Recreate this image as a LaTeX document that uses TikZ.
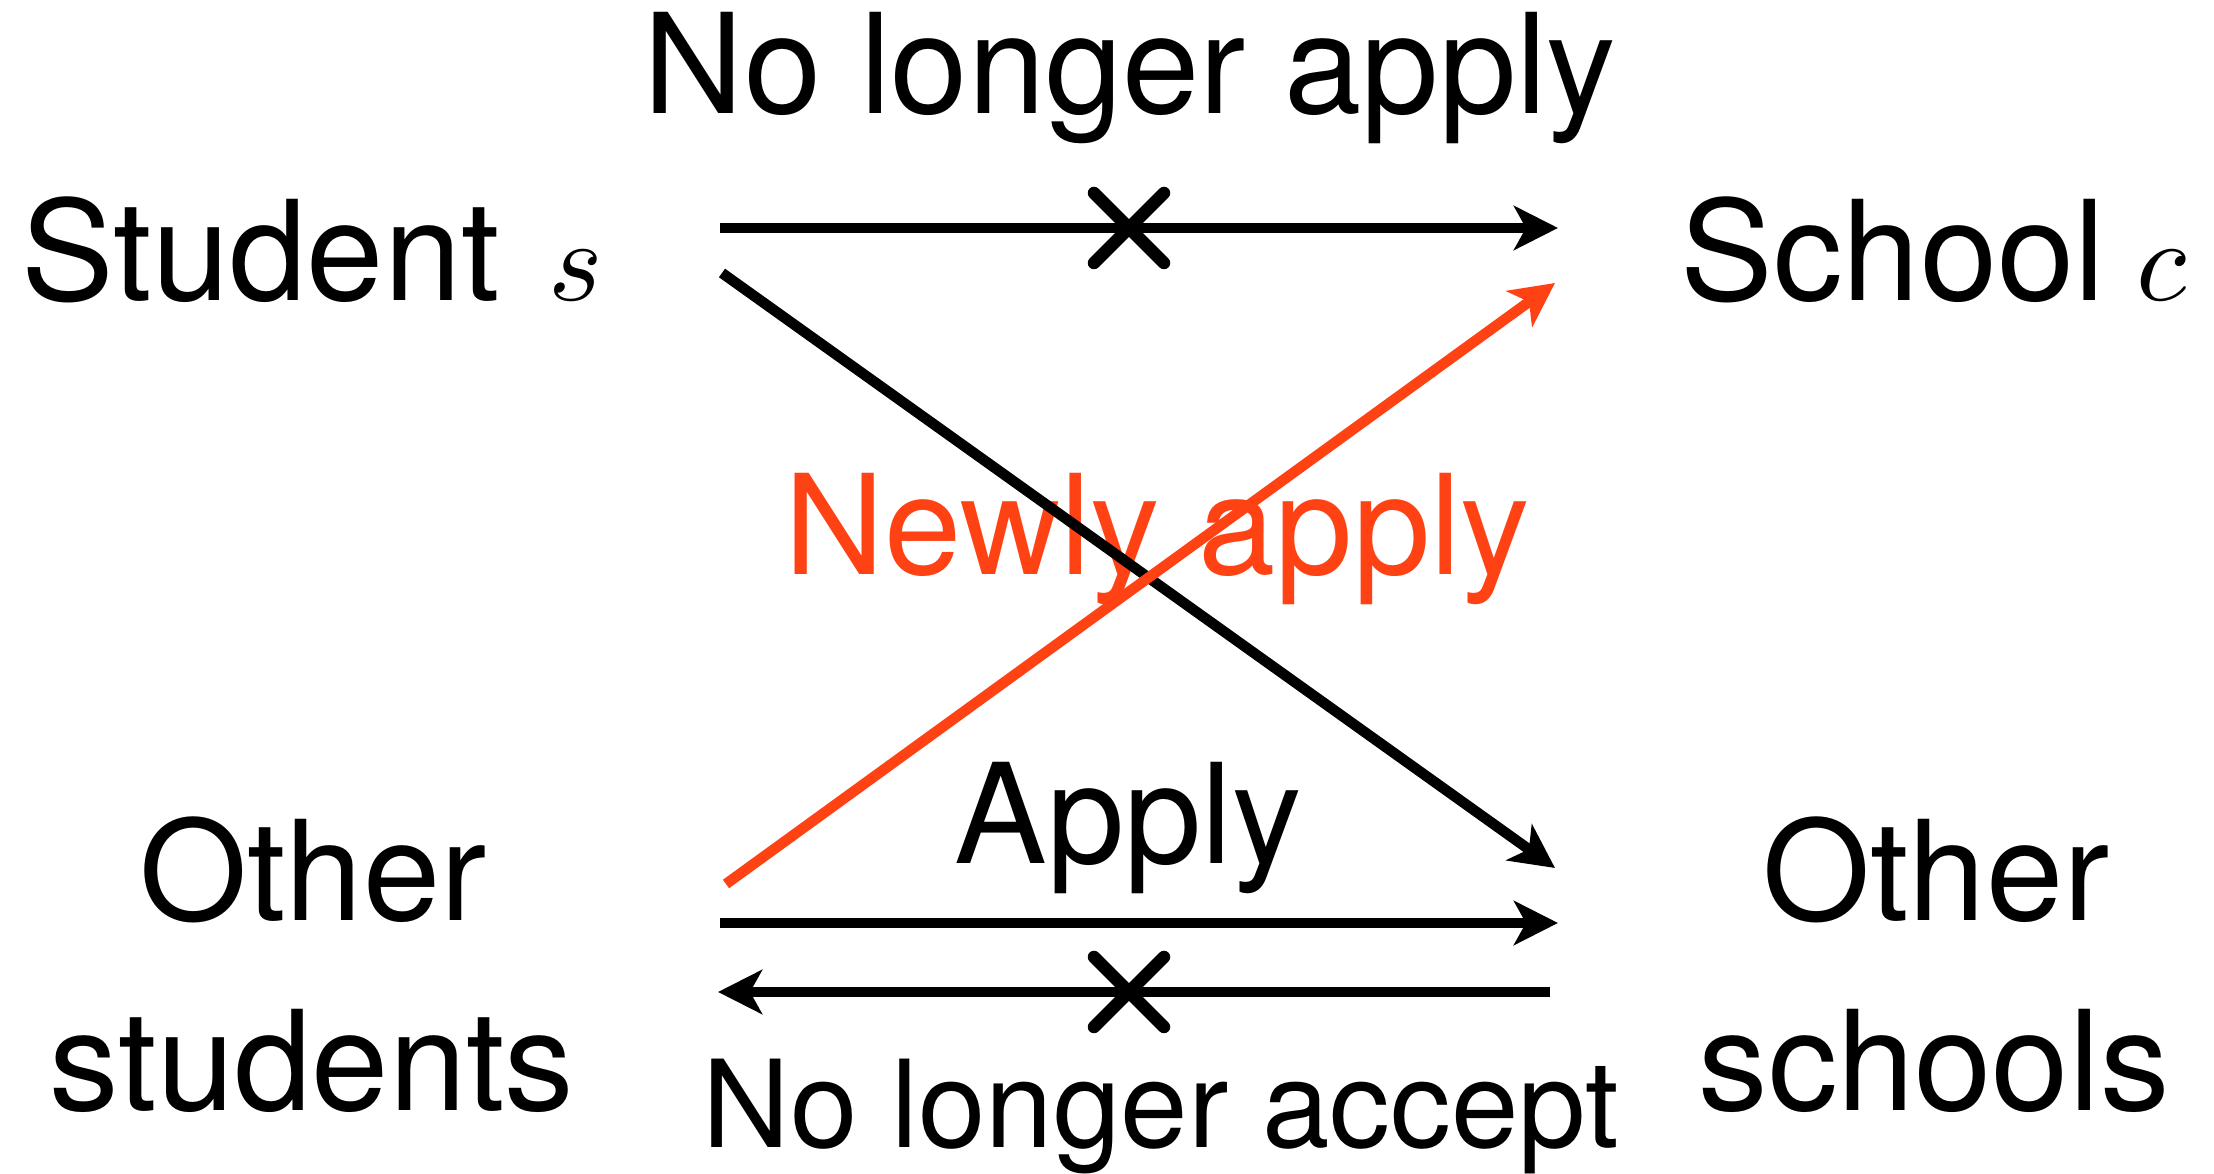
\documentclass[tikz,border=0pt]{standalone}
\usepackage{unicode-math}
\setmainfont{TeX Gyre Heros}
\setmathfont{latinmodern-math.otf}
\usetikzlibrary{arrows.meta}
\definecolor{neworange}{RGB}{255,66,20}
\newcommand{\varsym}[1]{{\fontsize{33}{34}\selectfont$#1$}}
\begin{document}
\begin{tikzpicture}[x=0.01cm,y=-0.01cm,
  lbl/.style={inner sep=0pt,anchor=base,font=\fontsize{39.5}{42}\selectfont},
  smalllbl/.style={lbl,font=\fontsize{34.5}{36}\selectfont},
  conn/.style={line width=0.105cm,-{Stealth[length=0.44cm,width=0.44cm,inset=0.12cm]}},
  crossmark/.style={line width=0.125cm,line cap=round}]
\useasboundingbox (0,0) rectangle (2214,1174);
% labels
\node[lbl] (nla) at (1130,114) {No longer apply};
\node[lbl,anchor=base west] (stu) at (21,301) {Student \hspace{3pt}\varsym{s}};
\node[lbl,anchor=base west] (sch) at (1680,301) {School \hspace{-2pt}\varsym{c}};
\node[lbl,text=neworange] (newly) at (1157,575) {Newly apply};
\node[lbl] (apply) at (1128,864) {Apply};
\node[lbl] (oth1) at (313,921) {Other};
\node[lbl] (stus) at (312,1111) {students};
\node[lbl] (oth2) at (1936,921) {Other};
\node[lbl] (schs) at (1934,1111) {schools};
\node[smalllbl] (nlacc) at (1161,1148) {No longer accept};
% end points
\coordinate (a1) at (720,228);  \coordinate (a2) at (1558,228);
\coordinate (d1) at (722,273);  \coordinate (d2) at (1555,868);
\coordinate (o1) at (726,884);  \coordinate (o2) at (1555,283);
\coordinate (p1) at (720,923);  \coordinate (p2) at (1558,923);
\coordinate (q1) at (1550,992); \coordinate (q2) at (718,992);
\coordinate (x1) at (1129,228); \coordinate (x2) at (1129,992);
% connectors
\draw[conn] (a1) -- (a2);
\draw[conn] (d1) -- (d2);
\draw[conn,draw=neworange,fill=neworange] (o1) -- (o2);
\draw[conn] (p1) -- (p2);
\draw[conn] (q1) -- (q2);
% crosses
\draw[crossmark] ([shift={(-35,-35)}]x1) -- ([shift={(35,35)}]x1);
\draw[crossmark] ([shift={(-35,35)}]x1) -- ([shift={(35,-35)}]x1);
\draw[crossmark] ([shift={(-35,-35)}]x2) -- ([shift={(35,35)}]x2);
\draw[crossmark] ([shift={(-35,35)}]x2) -- ([shift={(35,-35)}]x2);
\end{tikzpicture}
\end{document}
